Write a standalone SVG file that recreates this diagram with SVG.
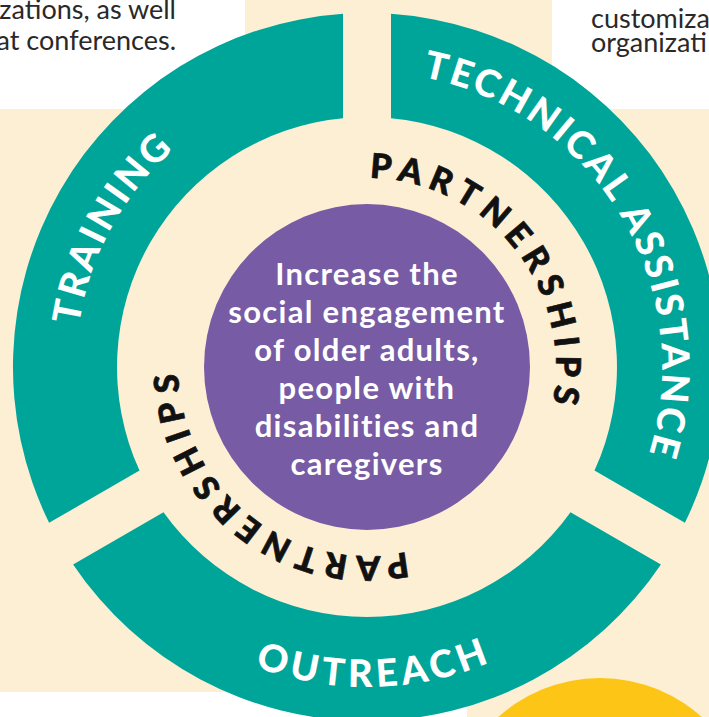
<svg xmlns="http://www.w3.org/2000/svg" xmlns:xlink="http://www.w3.org/1999/xlink" width="709" height="717" viewBox="0 0 709 717">
<style>
.teal{fill:#00A59A}
.ring{font-family:Lato,"Open Sans","DejaVu Sans",sans-serif;font-weight:900;font-size:38px;fill:#ffffff;letter-spacing:2.8px}
.out{letter-spacing:4.5px}
.part{font-family:Lato,"Open Sans","DejaVu Sans",sans-serif;font-weight:900;font-size:34px;fill:#111111;stroke:#111111;stroke-width:0.7px;letter-spacing:7.4px}
.center{font-family:Lato,"Open Sans","DejaVu Sans",sans-serif;font-weight:700;font-size:31px;fill:#ffffff;text-anchor:middle;letter-spacing:1.3px}
.body{font-family:Lato,"Open Sans","DejaVu Sans",sans-serif;font-size:27px;fill:#2B2829}
</style>
<defs>
<path id="cwTrain" d="M76,367 A291,291 0 1 1 658,367 A291,291 0 1 1 76,367"/>
<path id="cwTech" d="M72,367 A295,295 0 1 1 662,367 A295,295 0 1 1 72,367"/>
<path id="cwPart" d="M178,367 A189,189 0 1 1 556,367 A189,189 0 1 1 178,367"/>
<path id="ccwOut" d="M47,367 A320,320 0 1 0 687,367 A320,320 0 1 0 47,367"/>
</defs>
<g id="background">
<rect x="0" y="0" width="709" height="717" fill="#FDEFD3"/>
<rect x="0" y="0" width="245" height="109" fill="#ffffff"/>
<rect x="552" y="0" width="157" height="109" fill="#ffffff"/>
<rect x="0" y="692" width="467" height="25" fill="#ffffff"/>
<circle cx="600" cy="830" r="152" fill="#FDC616"/>
<text class="body" x="176" y="19" text-anchor="end">zations, as well</text>
<text class="body" x="176" y="50" text-anchor="end">at conferences.</text>
<text class="body" x="591" y="28">customiza</text>
<text class="body" x="591" y="52">organizati</text>
</g>
<g id="node-training">
<path class="teal" d="M343,13.81 A354,354 0 0 0 49.1,522.8 L139.5,470.6 A250,250 0 0 1 343,118.15 Z"/>
<text class="ring"><textPath xlink:href="#cwTrain" href="#cwTrain" startOffset="145" text-anchor="middle">TRAINING</textPath></text>
</g>
<g id="node-technical-assistance">
<path class="teal" d="M391,13.81 A354,354 0 0 1 684.9,522.8 L594.5,470.6 A250,250 0 0 0 391,118.15 Z"/>
<text class="ring"><textPath xlink:href="#cwTech" href="#cwTech" startOffset="768" text-anchor="middle">TECHNICAL ASSISTANCE</textPath></text>
</g>
<g id="node-outreach">
<path class="teal" d="M73.1,564.4 A354,354 0 0 0 660.9,564.4 L570.5,512.2 A250,250 0 0 1 163.5,512.2 Z"/>
<text class="ring out"><textPath xlink:href="#ccwOut" href="#ccwOut" startOffset="510" text-anchor="middle">OUTREACH</textPath></text>
</g>
<g id="node-partnerships">
<text class="part"><textPath xlink:href="#cwPart" href="#cwPart" startOffset="468" text-anchor="middle">PARTNERSHIPS</textPath></text>
<text class="part"><textPath xlink:href="#cwPart" href="#cwPart" startOffset="1019" text-anchor="middle">PARTNERSHIPS</textPath></text>
</g>
<g id="node-center">
<circle cx="367" cy="367" r="163" fill="#775BA4"/>
<text class="center" x="367" y="285">Increase the</text>
<text class="center" x="367" y="323">social engagement</text>
<text class="center" x="367" y="361">of older adults,</text>
<text class="center" x="367" y="399">people with</text>
<text class="center" x="367" y="437">disabilities and</text>
<text class="center" x="367" y="475">caregivers</text>
</g>
</svg>
